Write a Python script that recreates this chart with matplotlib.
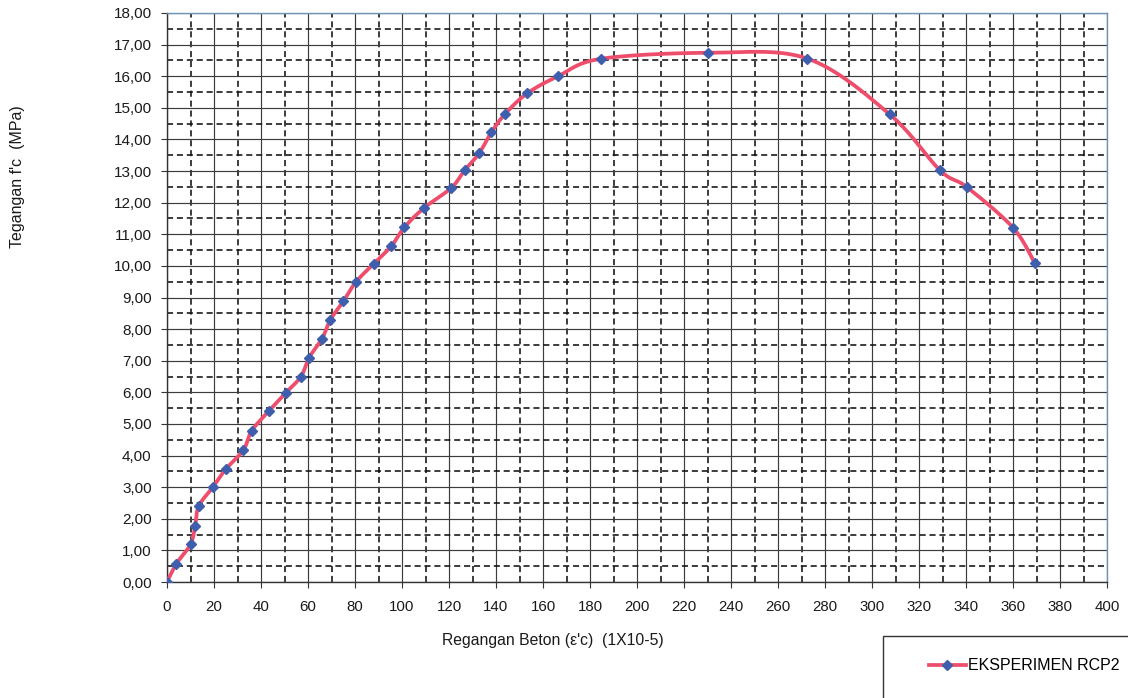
import numpy as np
import matplotlib
matplotlib.use("Agg")
import matplotlib.pyplot as plt
from matplotlib.lines import Line2D
from matplotlib.patches import Rectangle
from matplotlib.ticker import FixedLocator, MultipleLocator, FuncFormatter

plt.rcParams['font.family'] = ['Liberation Sans', 'DejaVu Sans']

# Stress-strain test data, specimen RCP2
strain = [0, 4, 10, 12, 13.5, 19.5, 25, 32.5, 36, 43.5, 50.5, 57, 60.5, 66,
          69.5, 75, 80.5, 88, 95.5, 101, 109.5, 121, 126.6, 132.8, 138, 143.9,
          153.3, 166.4, 184.5, 230.4, 272.4, 307.6, 329, 340.4, 360, 369.3]
stress = [0, 0.58, 1.19, 1.78, 2.4, 3.0, 3.57, 4.17, 4.78, 5.42, 5.98, 6.5,
          7.1, 7.7, 8.29, 8.88, 9.5, 10.07, 10.63, 11.22, 11.84, 12.47, 13.02,
          13.56, 14.22, 14.81, 15.46, 16.0, 16.55, 16.74, 16.56, 14.79, 13.02,
          12.49, 11.21, 10.08]
series_label = "EKSPERIMEN RCP2"
x_label = "Regangan Beton (\u03b5'c)  (1X10-5)"
y_label = "Tegangan f'c  (MPa)"

LINE_C = '#ee4d6c'
MARK_C = '#3f5fae'

W, H = 1128, 698
fig = plt.figure(figsize=(W / 100, H / 100), dpi=100)
ax_l, ax_r, ax_t, ax_b = 167, 1107, 13, 582
ax = fig.add_axes([ax_l / W, 1 - ax_b / H, (ax_r - ax_l) / W, (ax_b - ax_t) / H])

XMAX, YMAX = 400, 18
ax.set_xlim(0, XMAX)
ax.set_ylim(0, YMAX)


def smooth_curve(xs, ys, sx, sy, n=24):
    """Catmull-Rom style Bezier smoothing (computed in pixel-like space)."""
    P = np.column_stack([np.asarray(xs) * sx, np.asarray(ys) * sy])
    Pe = np.vstack([P[0], P, P[-1]])
    out = [P[0]]
    t = np.linspace(0, 1, n)[1:, None]
    for i in range(len(P) - 1):
        p0, p1, p2, p3 = Pe[i], Pe[i + 1], Pe[i + 2], Pe[i + 3]
        c1 = p1 + (p2 - p0) / 6.0
        c2 = p2 - (p3 - p1) / 6.0
        seg = ((1 - t) ** 3) * p1 + 3 * ((1 - t) ** 2) * t * c1 \
            + 3 * (1 - t) * t ** 2 * c2 + t ** 3 * p2
        out.extend(seg)
    out = np.array(out)
    return out[:, 0] / sx, out[:, 1] / sy


sx = (ax_r - ax_l) / XMAX
sy = (ax_b - ax_t) / YMAX
cx, cy = smooth_curve(strain, stress, sx, sy)

# grid: solid majors, dashed minors between them
ax.xaxis.set_major_locator(MultipleLocator(20))
ax.yaxis.set_major_locator(MultipleLocator(1))
ax.xaxis.set_minor_locator(FixedLocator(np.arange(10, XMAX, 20)))
ax.yaxis.set_minor_locator(FixedLocator(np.arange(0.5, YMAX, 1)))
ax.grid(which='major', color='#3c3c3c', linewidth=0.85, linestyle='-')
ax.grid(which='minor', color='#111111', linewidth=1.15, linestyle=(0, (3.8, 2.4)))
ax.set_axisbelow(True)

ax.plot(cx, cy, color=LINE_C, linewidth=2.7, solid_capstyle='round', zorder=3)
ax.plot(strain, stress, linestyle='none', marker='D', markersize=5,
        markerfacecolor=MARK_C, markeredgecolor=MARK_C, zorder=4)

ax.yaxis.set_major_formatter(FuncFormatter(lambda v, p: f"{v:.2f}".replace('.', ',')))
ax.xaxis.set_major_formatter(FuncFormatter(lambda v, p: f"{int(round(v))}"))
ax.tick_params(which='major', direction='out', length=4, width=0.8, color='#333333')
ax.tick_params(which='minor', length=0)
ax.tick_params(axis='y', labelsize=11, pad=7, labelcolor='#1a1a1a')
ax.tick_params(axis='x', labelsize=10.8, pad=9, labelcolor='#1a1a1a')

for side in ('left', 'bottom'):
    ax.spines[side].set_color('#333333')
    ax.spines[side].set_linewidth(1.0)
for side in ('top', 'right'):
    ax.spines[side].set_color('#6f95b5')
    ax.spines[side].set_linewidth(1.0)

fig.text(553 / W, 1 - 641 / H, x_label, ha='center', va='center',
         fontsize=11.3, color='#1a1a1a')
fig.text(18 / W, 1 - 177 / H, y_label, ha='center', va='center',
         rotation=90, fontsize=11.5, color='#1a1a1a')

# legend box running off the lower-right corner
fig.patches.append(Rectangle((883 / W, -0.02), (W + 20 - 883) / W, 0.02 + (H - 636) / H,
                             transform=fig.transFigure, facecolor='white',
                             edgecolor='#333333', linewidth=1.0, clip_on=False))
proxy = Line2D([], [], color=LINE_C, linewidth=2.7, marker='D', markersize=5,
               markerfacecolor=MARK_C, markeredgecolor=MARK_C)
fig.legend(handles=[proxy], labels=[series_label], loc='center left',
           bbox_to_anchor=(929 / W, 1 - 666 / H), frameon=False, fontsize=11.5,
           handlelength=2.3, handletextpad=0.15, borderpad=0, borderaxespad=0)

fig.savefig("out.png", dpi=100)
